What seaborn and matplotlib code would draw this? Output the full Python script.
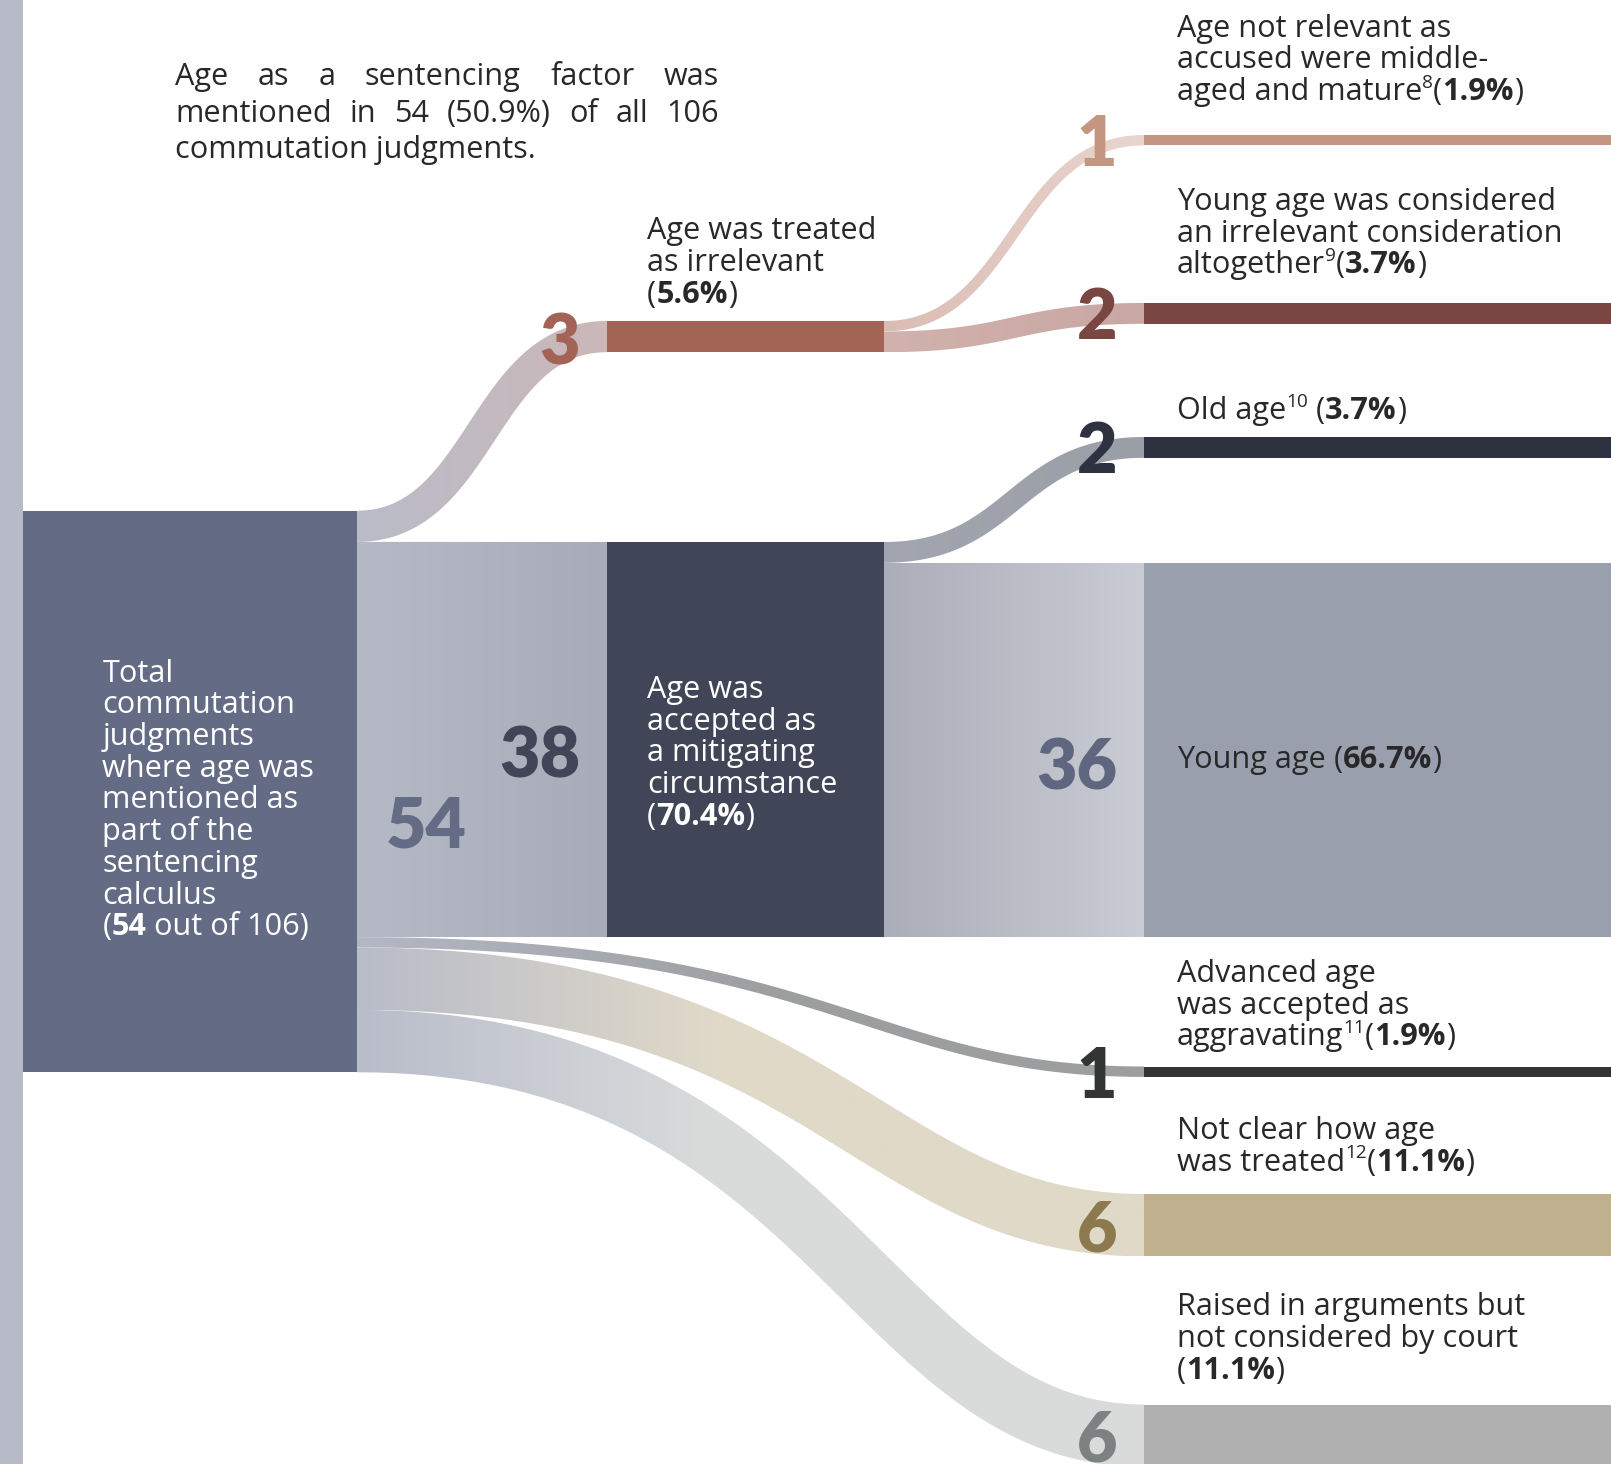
import numpy as np
import matplotlib
matplotlib.use("Agg")
import matplotlib.pyplot as plt
from matplotlib.path import Path
from matplotlib.patches import PathPatch
from matplotlib.textpath import TextPath
from matplotlib.font_manager import FontProperties
import matplotlib.colors as mcolors
import seaborn as sns

# ------------------------------------------------------------------ data
total_judgments = 106
node_ids = ["total", "irrelevant", "mitigating", "mature", "young_irrel",
            "old_age", "young_age", "aggravating", "not_clear", "not_considered"]
flow_source = ["total", "total", "total", "total", "total",
               "irrelevant", "irrelevant", "mitigating", "mitigating"]
flow_target = ["irrelevant", "mitigating", "aggravating", "not_clear", "not_considered",
               "mature", "young_irrel", "old_age", "young_age"]
flow_value = [3, 38, 1, 6, 6, 1, 2, 2, 36]
footnotes = {"mature": "8", "young_irrel": "9", "old_age": "10",
             "aggravating": "11", "not_clear": "12"}

# ------------------------------------------------------------------ style / layout
sns.set_theme(style="white")
BODY = ["Open Sans", "DejaVu Sans"]
NUMF = ["Lato", "DejaVu Sans"]
plt.rcParams["font.family"] = BODY

W, H = 1611, 1464
UNIT = 10.4                     # px per judgment
LINE = 31.7                     # text line spacing (px)
TEXT_DARK = "#282828"

node_x = {"total": (23, 357), "irrelevant": (607, 884), "mitigating": (607, 884)}
TERM_X = (1144, 1611)
node_top = {"total": 510.7, "irrelevant": 321.0, "mitigating": 542.0,
            "mature": 135.0, "young_irrel": 303.0, "old_age": 437.0,
            "young_age": 562.8, "aggravating": 1066.5, "not_clear": 1194.0,
            "not_considered": 1404.5}
node_color = {"total": "#646c85", "irrelevant": "#a36456", "mitigating": "#404657",
              "mature": "#c49580", "young_irrel": "#7a4642", "old_age": "#2e3140",
              "young_age": "#9a9fae", "aggravating": "#333535", "not_clear": "#c0b18e",
              "not_considered": "#b0b0b0"}
num_color = {"total": "#646c85", "irrelevant": "#a36456", "mitigating": "#404657",
             "young_age": "#5e6680", "mature": "#c49580", "young_irrel": "#7a4642",
             "old_age": "#2e3140", "aggravating": "#333535", "not_clear": "#8c7a4e",
             "not_considered": "#7d8182"}
# gradient (start colour, end colour, fraction of length where end colour is reached)
flow_grad = [("#b9bcc9", "#cbb7b8", 1.0), ("#b6bac7", "#a8abb8", 1.0),
             ("#b4b7c4", "#9c9e9f", 0.55), ("#b8bcc9", "#e0d9c8", 0.45),
             ("#b9bdca", "#d9dbdb", 0.45), ("#dbbcb4", "#e9d6d0", 1.0),
             ("#d2b2ad", "#c8a7a4", 1.0), ("#a3a6b0", "#9a9ea7", 1.0),
             ("#abaeb9", "#c9ccd4", 1.0)]
LONG_SHAPE = (0.6, 0.35)
SHORT_SHAPE = (0.5, 0.5)

fig = plt.figure(figsize=(W / 100, H / 100), dpi=100)
ax = fig.add_axes([0, 0, 1, 1])
ax.set_xlim(0, W)
ax.set_ylim(H, 0)
ax.axis("off")
R = fig.canvas.get_renderer()

# ------------------------------------------------------------------ helpers
def text_w(s, size, weight="normal", family=BODY):
    t = ax.text(0, 0, s + "|", fontsize=size, fontweight=weight, family=family)
    w1 = t.get_window_extent(R).width
    t.set_text("|")
    w2 = t.get_window_extent(R).width
    t.remove()
    return w1 - w2


def ribbon_path(x0, x1, yc0, yc1, w, a, b, n=400):
    t = np.linspace(0, 1, n)[:, None]
    L = x1 - x0
    P0 = np.array([x0, yc0]); P1 = np.array([x0 + a * L, yc0])
    P2 = np.array([x1 - b * L, yc1]); P3 = np.array([x1, yc1])
    C = (1 - t) ** 3 * P0 + 3 * (1 - t) ** 2 * t * P1 + 3 * (1 - t) * t ** 2 * P2 + t ** 3 * P3
    D = 3 * (1 - t) ** 2 * (P1 - P0) + 6 * (1 - t) * t * (P2 - P1) + 3 * t ** 2 * (P3 - P2)
    D = D / np.linalg.norm(D, axis=1, keepdims=True)
    N = np.c_[-D[:, 1], D[:, 0]]
    top = C - w / 2 * N
    bot = C + w / 2 * N
    verts = np.vstack([top, bot[::-1], top[:1]])
    codes = [Path.MOVETO] + [Path.LINETO] * (len(verts) - 2) + [Path.CLOSEPOLY]
    return Path(verts, codes)


# ------------------------------------------------------------------ node values
out_sum = {n: 0 for n in node_ids}
in_sum = {n: 0 for n in node_ids}
for s, t, v in zip(flow_source, flow_target, flow_value):
    out_sum[s] += v
    in_sum[t] += v
node_val = {n: max(out_sum[n], in_sum[n]) for n in node_ids}
TOTAL = node_val["total"]
pct = {n: f"{node_val[n] / TOTAL * 100:.1f}%" for n in node_ids}


def nx(n):
    return node_x.get(n, TERM_X)


# ------------------------------------------------------------------ background strip
ax.axvspan(0, 23, color="#b7bac7", lw=0, zorder=0)

# ------------------------------------------------------------------ flows
out_off = {n: 0 for n in node_ids}
in_off = {n: 0 for n in node_ids}
flow_geom = []
for i, (s, t, v) in enumerate(zip(flow_source, flow_target, flow_value)):
    ys0 = node_top[s] + out_off[s] * UNIT
    yt0 = node_top[t] + in_off[t] * UNIT
    out_off[s] += v
    in_off[t] += v
    w = v * UNIT
    x0, x1 = nx(s)[1], nx(t)[0]
    a, b = LONG_SHAPE if (x1 - x0) > 500 else SHORT_SHAPE
    path = ribbon_path(x0, x1, ys0 + w / 2, yt0 + w / 2, w, a, b)
    c0, c1, fend = flow_grad[i]
    cmap = sns.blend_palette([c0, c1], as_cmap=True)
    fr = np.clip(np.linspace(0, 1, 512) / fend, 0, 1)
    img = cmap(fr)[None, :, :]
    vy = path.vertices[:, 1]
    patch = PathPatch(path, facecolor=mcolors.to_rgba(c1, 0.0), edgecolor="none", zorder=1)
    ax.add_patch(patch)
    im = ax.imshow(img, extent=[x0, x1, vy.max(), vy.min()], aspect="auto",
                   interpolation="bilinear", zorder=1)
    im.set_clip_path(patch)
    flow_geom.append((ys0, yt0, w))

# ------------------------------------------------------------------ nodes (bars)
for n in node_ids:
    x0, x1 = nx(n)
    ax.bar(x0, node_val[n] * UNIT, width=x1 - x0, bottom=node_top[n], align="edge",
           color=node_color[n], linewidth=0, zorder=2)

# ------------------------------------------------------------------ big numbers
fp = FontProperties(family=NUMF, weight="heavy")
dig_ratio = TextPath((0, 0), "8", size=100, prop=fp).get_extents().height / 100
NUM_PX = 52.0
NUM_FS = NUM_PX / (dig_ratio * 100 / 72)


def big_num(xr, yb, s, color):
    ax.text(xr, yb, s, fontsize=NUM_FS, fontweight="heavy", family=NUMF, color=color,
            ha="right", va="baseline", zorder=5)


for n in ["mature", "young_irrel", "old_age", "aggravating", "not_clear", "not_considered"]:
    cy = node_top[n] + node_val[n] * UNIT / 2
    big_num(1117, cy + NUM_PX / 2, str(node_val[n]), num_color[n])
big_num(580, node_top["irrelevant"] + node_val["irrelevant"] * UNIT / 2 + 28,
        str(node_val["irrelevant"]), num_color["irrelevant"])
big_num(580, 778, str(flow_value[1]), num_color["mitigating"])
big_num(467, 848, str(TOTAL), num_color["total"])
big_num(1117, 789, str(flow_value[8]), num_color["young_age"])

# ------------------------------------------------------------------ text
BODY_FS = 20.0
BODY_FS = BODY_FS * 378 / text_w("Young age was considered", BODY_FS)


def draw_runs(x, y, runs, color, size=None):
    size = size or BODY_FS
    cur = x
    for s, kind in runs:
        fs = size * 0.62 if kind == "sup" else size
        fw = "bold" if kind == "b" else "normal"
        dy = -size * 100 / 72 * 0.40 if kind == "sup" else 0
        ax.text(cur, y + dy, s, fontsize=fs, fontweight=fw, color=color,
                ha="left", va="baseline", zorder=6)
        cur += text_w(s, fs, fw)


def draw_block(x, y0, lines, color):
    for k, ln in enumerate(lines):
        runs = [(ln, "n")] if isinstance(ln, str) else ln
        draw_runs(x, y0 + k * LINE, runs, color)


def draw_justified(x0, x1, y, text, color):
    words = text.split()
    ws = [text_w(w, BODY_FS) for w in words]
    gap = (x1 - x0 - sum(ws)) / (len(words) - 1)
    cur = x0
    for w, wd in zip(words, ws):
        ax.text(cur, y, w, fontsize=BODY_FS, color=color, ha="left", va="baseline", zorder=6)
        cur += wd + gap


# intro paragraph
share = f"{TOTAL / total_judgments * 100:.1f}%"
draw_justified(175, 719, 85, "Age as a sentencing factor was", TEXT_DARK)
draw_justified(175, 719, 121.7, f"mentioned in {TOTAL} ({share}) of all {total_judgments}", TEXT_DARK)
draw_runs(175, 158.3, [("commutation judgments.", "n")], TEXT_DARK)


def pct_run(n, pre="(", fn=None):
    r = []
    if fn:
        r.append((fn, "sup"))
    r += [(pre, "n"), (pct[n], "b"), (")", "n")]
    return r


draw_block(102.3, 681.7, ["Total", "commutation", "judgments", "where age was",
                          "mentioned as", "part of the", "sentencing", "calculus",
                          [("(", "n"), (str(TOTAL), "b"), (f" out of {total_judgments})", "n")]],
           "white")
draw_block(647, 239.3, ["Age was treated", "as irrelevant", pct_run("irrelevant")], TEXT_DARK)
draw_block(647, 698, ["Age was", "accepted as", "a mitigating", "circumstance",
                      pct_run("mitigating")], "white")

RX = 1177
draw_block(RX, 36.7, ["Age not relevant as", "accused were middle-",
                      [("aged and mature", "n")] + pct_run("mature", fn=footnotes["mature"])],
           TEXT_DARK)
draw_block(RX, 210, ["Young age was considered", "an irrelevant consideration",
                     [("altogether", "n")] + pct_run("young_irrel", fn=footnotes["young_irrel"])],
           TEXT_DARK)
draw_block(RX, 419.3, [[("Old age", "n")] + pct_run("old_age", pre=" (", fn=footnotes["old_age"])],
           TEXT_DARK)
draw_block(RX, 768, [[("Young age", "n")] + pct_run("young_age", pre=" (")], TEXT_DARK)
draw_block(RX, 982, ["Advanced age", "was accepted as",
                     [("aggravating", "n")] + pct_run("aggravating", fn=footnotes["aggravating"])],
           TEXT_DARK)
draw_block(RX, 1139, ["Not clear how age",
                      [("was treated", "n")] + pct_run("not_clear", fn=footnotes["not_clear"])],
           TEXT_DARK)
draw_block(RX, 1315.5, ["Raised in arguments but", "not considered by court",
                        pct_run("not_considered")], TEXT_DARK)

ax.set_xlim(0, W)
ax.set_ylim(H, 0)
fig.savefig("out.png", dpi=100, facecolor="white")
